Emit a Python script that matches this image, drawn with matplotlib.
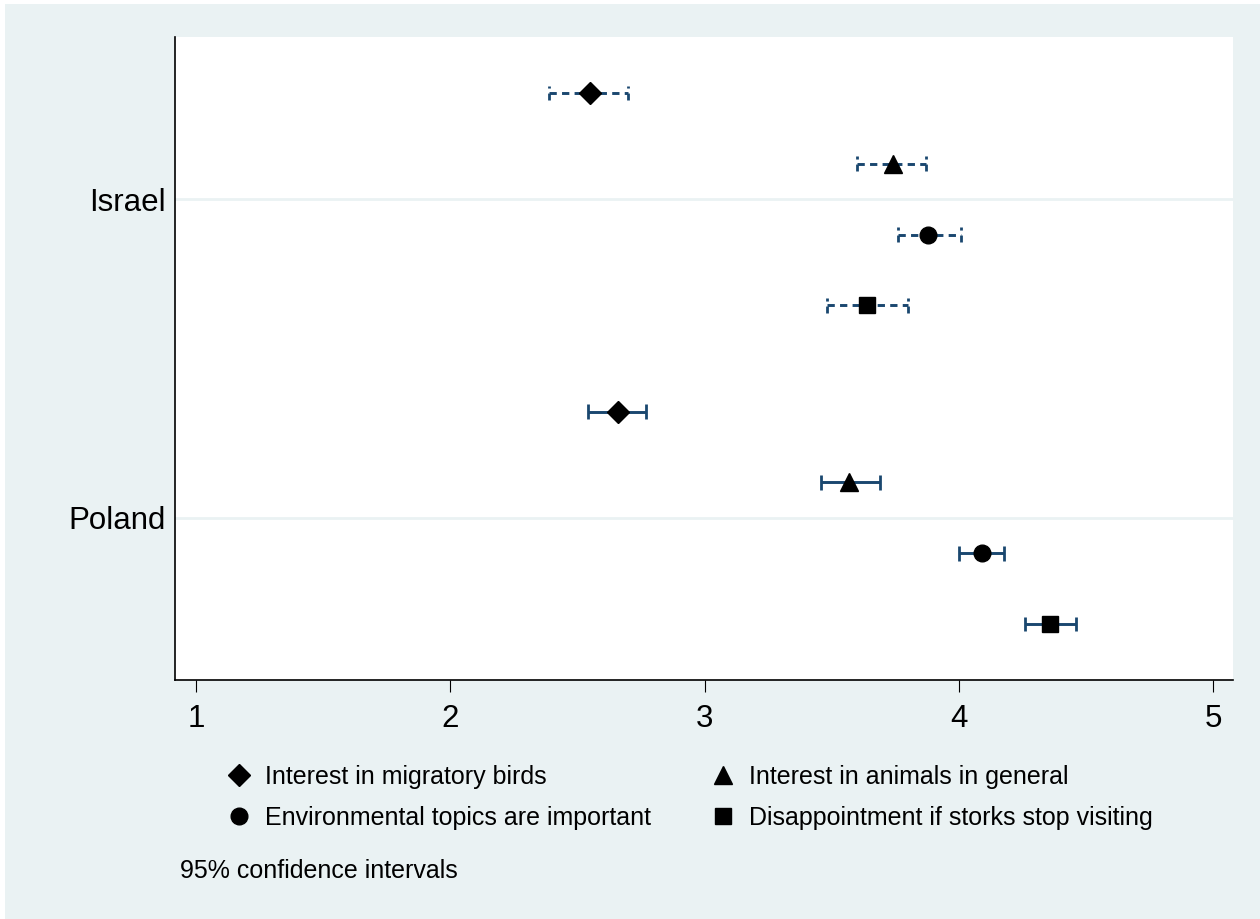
import matplotlib
matplotlib.use("Agg")
import matplotlib.pyplot as plt
from matplotlib.patches import Rectangle

plt.rcParams['font.family'] = ['Liberation Sans', 'DejaVu Sans']

# ---------------- data ----------------
countries = ['Israel', 'Poland']
items = ['Interest in migratory birds',
         'Interest in animals in general',
         'Environmental topics are important',
         'Disappointment if storks stop visiting']
markers = ['D', '^', 'o', 's']
marker_sizes = [11.5, 13, 12, 11.5]

israel_mean = [2.55, 3.74, 3.88, 3.64]
israel_lo = [2.39, 3.60, 3.76, 3.48]
israel_hi = [2.70, 3.87, 4.01, 3.80]

poland_mean = [2.66, 3.57, 4.09, 4.36]
poland_lo = [2.54, 3.46, 4.00, 4.26]
poland_hi = [2.77, 3.69, 4.18, 4.46]

xticks = [1, 2, 3, 4, 5]
note = '95% confidence intervals'

means = [israel_mean, poland_mean]
los = [israel_lo, poland_lo]
his = [israel_hi, poland_hi]
styles = [(0, (2.5, 1.8)), 'solid']

# ---------------- figure ----------------
W, H = 1260, 919
fig = plt.figure(figsize=(W / 100, H / 100), dpi=100)
fig.patch.set_facecolor('white')
bg = '#EAF2F3'
fig.patches.append(Rectangle((5 / W, 0), 1 - 5 / W, 1 - 4 / H,
                             transform=fig.transFigure, facecolor=bg,
                             edgecolor='none', zorder=-10))

ax = fig.add_axes([175 / W, 1 - 680 / H, (1233 - 175) / W, (680 - 37) / H])
ax.set_facecolor('white')

navy = '#1a476f'
group_gap = 4.5
cap_h = 0.105
centers = []
handles = []
for g, country in enumerate(countries):
    ys = [g * group_gap + s for s in range(len(items))]
    centers.append((ys[0] + ys[-1]) / 2)
    for s in range(len(items)):
        y = ys[s]
        lo, hi, m = los[g][s], his[g][s], means[g][s]
        ax.hlines(y, lo, hi, colors=navy, linewidth=2.1,
                  linestyles=styles[g], zorder=3)
        for xc in (lo, hi):
            ax.vlines(xc, y + cap_h, y - cap_h, colors=navy, linewidth=2.0,
                      linestyles=styles[g], zorder=3)
        ln, = ax.plot([m], [y], linestyle='none', marker=markers[s],
                      markersize=marker_sizes[s], color='black', zorder=5)
        if g == 0:
            handles.append(ln)

ax.set_xlim(0.917, 5.079)
ax.set_ylim(8.29, -0.79)
ax.set_xticks(xticks)
ax.set_xticklabels([str(t) for t in xticks])
ax.set_yticks(centers)
ax.set_yticklabels(countries)
for c in centers:
    ax.axhline(c, color=bg, linewidth=2.0, zorder=1)

for side in ('top', 'right'):
    ax.spines[side].set_visible(False)
for side in ('left', 'bottom'):
    ax.spines[side].set_linewidth(1.2)
    ax.spines[side].set_color('black')

ax.tick_params(axis='x', direction='out', length=8.6, width=0.8,
               labelsize=22.5, pad=9)
ax.tick_params(axis='y', length=0, labelsize=22.5, pad=7)

order = [0, 2, 1, 3]
fig.legend([handles[i] for i in order], [items[i] for i in order],
           loc='upper left', bbox_to_anchor=(226 / W, 1 - 765 / H),
           ncol=2, frameon=False, fontsize=18, handlelength=1.0,
           handletextpad=0.55, columnspacing=2.38, labelspacing=0.68,
           borderpad=0, borderaxespad=0)

fig.text(180 / W, 1 - 871 / H, note, fontsize=18, va='center', ha='left')

fig.savefig('out.png', dpi=100, facecolor=fig.get_facecolor())
